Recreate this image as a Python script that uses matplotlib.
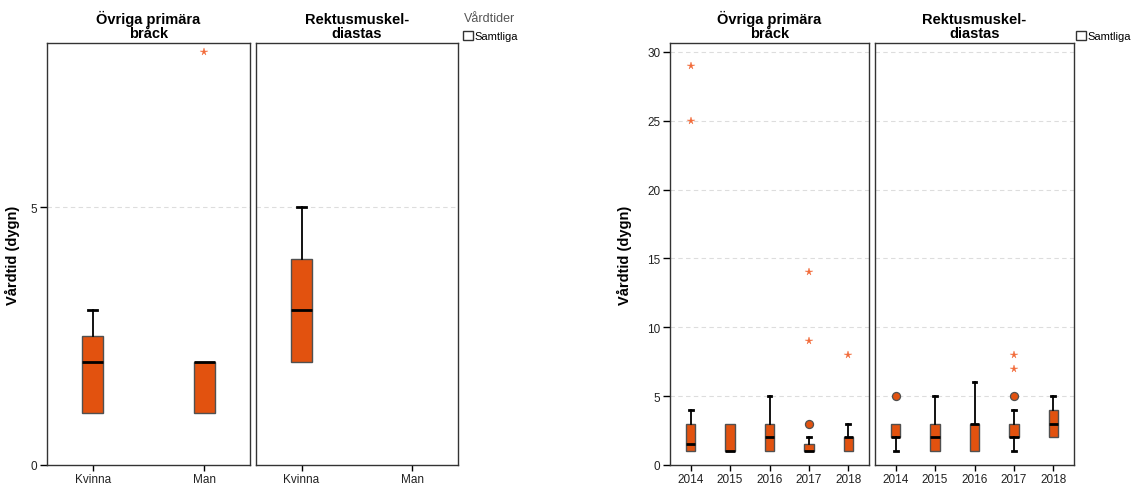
import matplotlib
matplotlib.use("Agg")
import matplotlib.pyplot as plt
from matplotlib.patches import Patch

plt.rcParams['font.family'] = ['Liberation Sans', 'DejaVu Sans']

# ---------------- data ----------------
panel_titles = ["Övriga primära\nbråck", "Rektusmuskel-\ndiastas"]
ylabel = "Vårdtid (dygn)"
legend_title = "Vårdtider"
legend_label = "Samtliga"

# Left chart: by sex
sex_cats = ["Kvinna", "Man"]
sex_q1 = [[1, 1], [2, None]]
sex_med = [[2, 2], [3, None]]
sex_q3 = [[2.5, 2], [4, None]]
sex_wlo = [[1, 1], [2, None]]
sex_whi = [[3, 2], [5, None]]
sex_circles = [[[], []], [[], []]]
sex_stars = [[[], [8]], [[], []]]

# Right chart: by year
years = ["2014", "2015", "2016", "2017", "2018"]
yr_q1 = [[1, 1, 1, 1, 1], [2, 1, 1, 2, 2]]
yr_med = [[1.5, 1, 2, 1, 2], [2, 2, 3, 2, 3]]
yr_q3 = [[3, 3, 3, 1.5, 2], [3, 3, 3, 3, 4]]
yr_wlo = [[1, 1, 1, 1, 1], [1, 1, 1, 1, 2]]
yr_whi = [[4, 3, 5, 2, 3], [3, 5, 6, 4, 5]]
yr_circles = [[[], [], [], [3], []], [[5], [], [], [5], []]]
yr_stars = [[[25, 29], [], [], [9, 14], [8]], [[], [], [], [7, 8], []]]

ORANGE = "#E2520F"
STAR = "#F26B3A"
EDGE = "#505050"

fig = plt.figure(figsize=(11.32, 4.89), dpi=100)
W, H = 1132, 489


def ax_at(x0, x1, y_top, y_bot):
    return fig.add_axes([x0 / W, 1 - y_bot / H, (x1 - x0) / W, (y_bot - y_top) / H])


def draw_panel(ax, cats, q1, med, q3, wlo, whi, circles, stars, width, ylim, yticks, xmargin, show_y):
    stats = []
    pos = []
    for i in range(len(cats)):
        if q1[i] is None:
            continue
        stats.append(dict(q1=q1[i], med=med[i], q3=q3[i], whislo=wlo[i], whishi=whi[i], fliers=[]))
        pos.append(i)
    res = ax.bxp(stats, positions=pos, widths=width, patch_artist=True, showfliers=False,
                 boxprops=dict(facecolor=ORANGE, edgecolor=EDGE, linewidth=1.0),
                 medianprops=dict(color="black", linewidth=2.0, solid_capstyle="butt"),
                 whiskerprops=dict(color="black", linewidth=1.3),
                 capprops=dict(color="black", linewidth=2.0),
                 capwidths=width * 0.4)
    # hide caps of zero-length whiskers
    for k, st in enumerate(stats):
        if st["whislo"] == st["q1"]:
            res["caps"][2 * k].set_visible(False)
        if st["whishi"] == st["q3"]:
            res["caps"][2 * k + 1].set_visible(False)
    for i in range(len(cats)):
        if circles[i]:
            ax.plot([i] * len(circles[i]), circles[i], 'o', ms=5.8, mfc=ORANGE, mec=EDGE, mew=0.9, zorder=5)
        if stars[i]:
            ax.plot([i] * len(stars[i]), stars[i], '*', ms=5.5, mfc=STAR, mec=STAR, mew=0.3, zorder=5)
    ax.set_xlim(-xmargin, len(cats) - 1 + xmargin)
    ax.set_ylim(0, ylim)
    ax.set_xticks(range(len(cats)))
    ax.set_xticklabels(cats, fontsize=8.5, color="#222222")
    ax.set_yticks(yticks)
    for y in yticks:
        if y > 0:
            ax.axhline(y, color="#DDDDDD", lw=0.8, ls=(0, (4, 3)), zorder=0)
    if show_y:
        ax.set_yticklabels([str(t) for t in yticks], fontsize=8.5, color="#222222")
        ax.tick_params(axis='y', length=5, width=1, direction='out', pad=2)
    else:
        ax.tick_params(axis='y', left=False, labelleft=False)
    ax.tick_params(axis='x', length=4, width=1, direction='out', pad=2)
    for s in ax.spines.values():
        s.set_color("#333333")
        s.set_linewidth(1.0)


def legend_box(x, y):
    h = [Patch(facecolor="white", edgecolor="#333333", linewidth=1.0)]
    fig.legend(h, [legend_label], loc="upper left", bbox_to_anchor=(x / W, 1 - y / H),
               frameon=False, fontsize=8, handlelength=0.9, handleheight=0.9,
               handletextpad=0.15, borderpad=0, borderaxespad=0)


# ---------- Left chart ----------
left_x = [(47, 250), (256, 458)]
for p, (x0, x1) in enumerate(left_x):
    ax = ax_at(x0, x1, 44, 466)
    draw_panel(ax, sex_cats, sex_q1[p], sex_med[p], sex_q3[p], sex_wlo[p], sex_whi[p],
               sex_circles[p], sex_stars[p], 0.19, 8.18, [0, 5], 0.41, p == 0)
    ax.set_title(panel_titles[p], fontsize=10.5, fontweight="bold", linespacing=1.0, pad=4)
    if p == 0:
        ax.set_ylabel(ylabel, fontsize=10.5, fontweight="bold")
        ax.yaxis.set_label_coords((20 - x0) / (x1 - x0), 0.5)
fig.text(464 / W, 1 - 19 / H, legend_title, fontsize=9, color="#555555", va="center", ha="left")
legend_box(463, 32)

# ---------- Right chart ----------
right_x = [(670, 869), (875, 1074)]
for p, (x0, x1) in enumerate(right_x):
    ax = ax_at(x0, x1, 44, 466)
    draw_panel(ax, years, yr_q1[p], yr_med[p], yr_q3[p], yr_wlo[p], yr_whi[p],
               yr_circles[p], yr_stars[p], 0.25, 30.65, [0, 5, 10, 15, 20, 25, 30], 0.52, p == 0)
    ax.set_title(panel_titles[p], fontsize=10.5, fontweight="bold", linespacing=1.0, pad=4)
    if p == 0:
        ax.set_ylabel(ylabel, fontsize=10.5, fontweight="bold")
        ax.yaxis.set_label_coords((632 - x0) / (x1 - x0), 0.5)
legend_box(1076, 32)

fig.savefig("out.png", dpi=100)
